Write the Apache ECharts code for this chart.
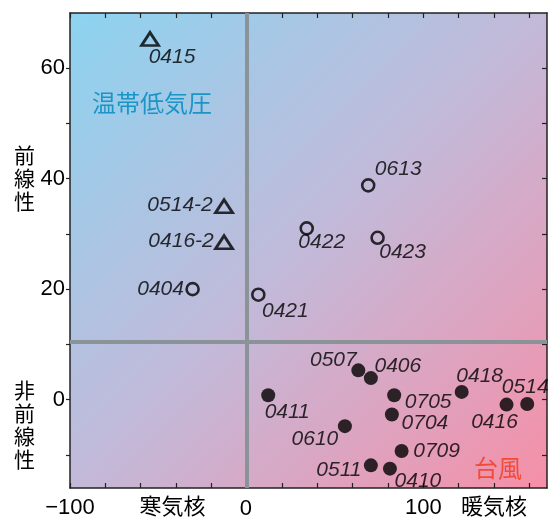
<!DOCTYPE html>
<html>
<head>
<meta charset="utf-8">
<script src="https://cdn.jsdelivr.net/npm/echarts@6/dist/echarts.min.js"></script>
<style>html,body{margin:0;padding:0;background:#fff;overflow:hidden;}#c{width:550px;height:519px;}</style>
</head>
<body>
<div id="c"></div>
<script>
// ---- data ----
const trianglePts = [
  [-54.7, 65.3, '0415'],
  [-12.8, 35.0, '0514-2'],
  [-12.8, 28.5, '0416-2']
];
const openCirclePts = [
  [68.8, 38.8, '0613'],
  [34.0, 31.0, '0422'],
  [74.1, 29.3, '0423'],
  [-30.6, 20.0, '0404'],
  [6.6, 19.0, '0421']
];
const filledCirclePts = [
  [12.2, 0.8, '0411'],
  [63.2, 5.3, '0507'],
  [70.3, 3.9, '0406'],
  [83.5, 0.8, '0705'],
  [82.2, -2.7, '0704'],
  [55.6, -4.8, '0610'],
  [87.7, -9.3, '0709'],
  [70.3, -11.9, '0511'],
  [81.1, -12.5, '0410'],
  [121.7, 1.4, '0418'],
  [147.1, -0.9, '0416'],
  [158.8, -0.8, '0514']
];
const xTickValues = [-100, -80, -60, -40, -20, 0, 20, 40, 60, 80, 100, 120, 140, 160];
const xLabelValues = [-100, -42, 100, 140];
const xZeroLabel = 0;
const xTextLabels = { '-42': '寒気核', '140': '暖気核' };
const yTickValues = [-10, 0, 10, 20, 30, 40, 50, 60];
const yLabelValues = [0, 20, 40, 60];
const dividerX = 0;
const dividerY = 10.5;
const xMin = -100, xMax = 170, yMin = -16, yMax = 70;

// ---- label placement (style, px offsets from marker centre) ----
const labelOffset = {
  '0415': [22, 18], '0514-2': [-44, -1], '0416-2': [-43, -1],
  '0613': [30, -16], '0422': [15, 14], '0423': [25, 14], '0404': [-32, 0], '0421': [27, 16],
  '0411': [19, 17], '0507': [-25, -10], '0406': [27, -12], '0705': [34, 7], '0704': [33, 9],
  '0610': [-30, 13], '0709': [35, 0], '0511': [-32, 5], '0410': [28, 12], '0418': [18, -16],
  '0416': [-12, 18], '0514': [-2, -17]
};

const FONT = "'Liberation Sans', Arial, 'Noto Sans CJK JP', sans-serif";
const CJK = "'Noto Sans CJK JP', sans-serif";
const GRID = { left: 70, top: 13, right: 3, bottom: 29 };

function toData(arr) {
  return arr.map(p => ({
    value: [p[0], p[1]],
    name: p[2],
    label: {
      show: true, position: 'inside', offset: labelOffset[p[2]] || [0, 0],
      align: 'center', verticalAlign: 'middle', formatter: p[2],
      fontStyle: 'italic', fontSize: 21, color: '#000', fontFamily: FONT
    }
  }));
}

const el = document.getElementById('c');
const chart = echarts.init(el, null, { renderer: 'canvas', width: 550, height: 519 });
const axisLineStyle = { color: '#222', width: 1.5 };
const fmtX = v => {
  const key = String(Math.round(v));
  if (xTextLabels[key]) return xTextLabels[key];
  return v < 0 ? '\u2212' + Math.abs(v) : String(v);
};
// x position of the "0" tick label, derived from the axis extent and grid
const plotW = 550 - GRID.left - GRID.right;
const zeroLabelX = GRID.left + (xZeroLabel - xMin) / (xMax - xMin) * plotW;
const zeroLabelTop = 519 - GRID.bottom + 9;

const graphics = [
  { type: 'text', left: 92, top: 91, style: { text: '温帯低気圧', fontSize: 24, fill: '#1b95c6', fontFamily: CJK } },
  { type: 'text', left: 474, top: 456, style: { text: '台風', fontSize: 24, fill: '#f04c3a', fontFamily: CJK } },
  { type: 'text', left: 14, top: 144, style: { text: '前\n線\n性', fontSize: 21, lineHeight: 23, fill: '#000', fontFamily: CJK } },
  { type: 'text', left: 14, top: 379, style: { text: '非\n前\n線\n性', fontSize: 21, lineHeight: 23, fill: '#000', fontFamily: CJK } },
  { type: 'text', left: zeroLabelX - 7, top: zeroLabelTop - 1, z: 100,
    style: { text: String(xZeroLabel), fontSize: 22, fill: '#000', fontFamily: FONT } }
];
const option = {
  animation: false,
  grid: {
    left: GRID.left, top: GRID.top, right: GRID.right, bottom: GRID.bottom, show: true, borderWidth: 0,
    backgroundColor: new echarts.graphic.LinearGradient(0, 0, 1, 1, [
      { offset: 0, color: '#8cd4f0' },
      { offset: 0.5, color: '#c3b9d9' },
      { offset: 1, color: '#f68fa7' }
    ])
  },
  xAxis: [
    {
      type: 'value', min: xMin, max: xMax, position: 'bottom',
      axisLine: { show: true, onZero: false, lineStyle: axisLineStyle },
      axisTick: { show: true, inside: true, length: 5, customValues: xTickValues, lineStyle: { color: '#222', width: 1.2 } },
      axisLabel: {
        customValues: xLabelValues, formatter: fmtX, margin: 9, hideOverlap: false,
        fontSize: 22, color: '#000', fontFamily: FONT
      },
      splitLine: { show: false }
    },
    {
      type: 'value', min: xMin, max: xMax, position: 'top',
      axisLine: { show: true, onZero: false, lineStyle: axisLineStyle },
      axisTick: { show: true, inside: true, length: 5, customValues: xTickValues, lineStyle: { color: '#222', width: 1.2 } },
      axisLabel: { show: false },
      splitLine: { show: false }
    }
  ],
  yAxis: [
    {
      type: 'value', min: yMin, max: yMax, position: 'left',
      axisLine: { show: true, onZero: false, lineStyle: axisLineStyle },
      axisTick: { show: true, inside: false, length: 4, customValues: yTickValues, lineStyle: { color: '#222', width: 1.2 } },
      axisLabel: { customValues: yLabelValues, margin: 5, fontSize: 22, color: '#000', fontFamily: FONT },
      splitLine: { show: false }
    },
    {
      type: 'value', min: yMin, max: yMax, position: 'right',
      axisLine: { show: true, onZero: false, lineStyle: axisLineStyle },
      axisTick: { show: true, inside: true, length: 5, customValues: yTickValues, lineStyle: { color: '#222', width: 1.2 } },
      axisLabel: { show: false },
      splitLine: { show: false }
    }
  ],
  series: [
    {
      type: 'scatter', data: [], z: 1, silent: true,
      markLine: {
        silent: true, symbol: 'none', label: { show: false },
        lineStyle: { color: '#8a9397', width: 4, type: 'solid', opacity: 1 },
        data: [{ xAxis: dividerX }, { yAxis: dividerY }]
      }
    },
    {
      type: 'scatter', symbol: 'triangle', symbolSize: [17, 13], z: 3,
      itemStyle: { color: 'rgba(0,0,0,0)', borderColor: '#000', borderWidth: 2.8 },
      data: toData(trianglePts)
    },
    {
      type: 'scatter', symbol: 'circle', symbolSize: 12, z: 3,
      itemStyle: { color: 'rgba(0,0,0,0)', borderColor: '#000', borderWidth: 2.6 },
      data: toData(openCirclePts)
    },
    {
      type: 'scatter', symbol: 'circle', symbolSize: 14, z: 3,
      itemStyle: { color: '#000' },
      data: toData(filledCirclePts)
    }
  ],
  graphic: graphics
};
chart.setOption(option);
</script>
</body>
</html>
